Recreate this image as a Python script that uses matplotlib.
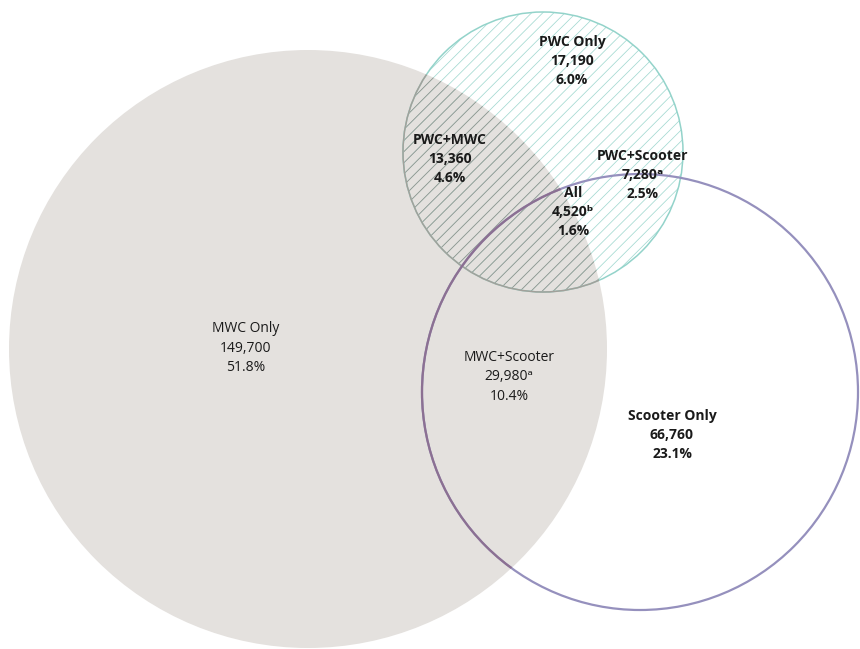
import matplotlib
matplotlib.use("Agg")
import matplotlib.pyplot as plt
from matplotlib.patches import Circle

# region data
regions = ["PWC Only", "PWC+MWC", "PWC+Scooter", "All",
           "MWC Only", "MWC+Scooter", "Scooter Only"]
counts = ["17,190", "13,360", "7,280", "4,520", "149,700", "29,980", "66,760"]
notes = ["", "", "\u1d43", "\u1d47", "", "\u1d43", ""]
percents = ["6.0%", "4.6%", "2.5%", "1.6%", "51.8%", "10.4%", "23.1%"]

# layout (pixel coords, y down)
label_pos = [(572, 61), (450, 159), (643, 175), (573, 212),
             (246, 348), (509, 377), (672, 435)]
bold = [True, True, True, True, False, False, True]
mwc_c, mwc_r = (308, 349), 299
pwc_c, pwc_r = (543, 152), 140
sco_c, sco_r = (640, 392), 218

grey_fill = "#e4e1de"
teal = "#93d3ca"
teal_hatch = "#a3d9d1"
grey_hatch = "#94908b"
purple = "#9590bd"
purple_on_grey = "#8c7092"

plt.rcParams["hatch.linewidth"] = 0.55

fig = plt.figure(figsize=(8.6, 6.49), dpi=100)
ax = fig.add_axes([0, 0, 1, 1])
ax.set_xlim(0, 860)
ax.set_ylim(649, 0)
ax.set_aspect("equal")
ax.axis("off")

mwc = Circle(mwc_c, mwc_r, facecolor=grey_fill, edgecolor="none", zorder=1)
ax.add_patch(mwc)

# hatch of PWC: teal on white, grey where it sits on the MWC circle
ax.add_patch(Circle(pwc_c, pwc_r, facecolor="none", edgecolor=teal_hatch,
                    hatch="///", lw=0, zorder=2))
h2 = Circle(pwc_c, pwc_r, facecolor="none", edgecolor=grey_hatch,
            hatch="///", lw=0, zorder=3)
ax.add_patch(h2)
h2.set_clip_path(mwc)

ax.add_patch(Circle(pwc_c, pwc_r, facecolor="none", edgecolor=teal, lw=1.1, zorder=4))
o2 = Circle(pwc_c, pwc_r, facecolor="none", edgecolor="#a2a09a", lw=1.1, zorder=5)
ax.add_patch(o2)
o2.set_clip_path(mwc)

ax.add_patch(Circle(sco_c, sco_r, facecolor="none", edgecolor=purple, lw=1.6, zorder=6))
s2 = Circle(sco_c, sco_r, facecolor="none", edgecolor=purple_on_grey, lw=1.6, zorder=7)
ax.add_patch(s2)
s2.set_clip_path(mwc)

for name, cnt, note, pct, (x, y), b in zip(regions, counts, notes, percents, label_pos, bold):
    ax.text(x, y, f"{name}\n{cnt}{note}\n{pct}", ha="center", va="center",
            family=["Open Sans", "DejaVu Sans"], fontsize=10,
            fontweight="bold" if b else "normal", color="#1a1a1a",
            linespacing=1.45, zorder=10)

fig.savefig("out.png", dpi=100)
